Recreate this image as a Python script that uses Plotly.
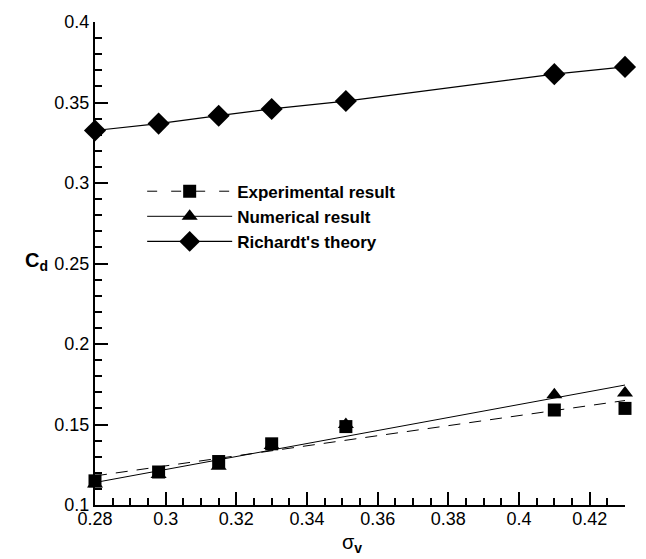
import numpy as np
import plotly.graph_objects as go

sigma_v = [0.28, 0.298, 0.315, 0.33, 0.351, 0.41, 0.43]
cd_experimental = [0.115, 0.1205, 0.127, 0.138, 0.1487, 0.159, 0.160]
cd_numerical = [0.113, 0.119, 0.124, 0.137, 0.150, 0.1685, 0.1695]
cd_richardt = [0.3326, 0.3369, 0.3418, 0.346, 0.3509, 0.3676, 0.3721]

names = ["Experimental result", "Numerical result", "Richardt's theory"]

x_arr = np.array(sigma_v)
x_fit = np.array([min(sigma_v), max(sigma_v)])
exp_fit = np.polyval(np.polyfit(x_arr, cd_experimental, 1), x_fit)
num_fit = np.polyval(np.polyfit(x_arr, cd_numerical, 1), x_fit)

FONT = "Liberation Sans, Arial, sans-serif"

fig = go.Figure()

# fitted lines
fig.add_trace(go.Scatter(x=x_fit, y=exp_fit, mode="lines", showlegend=False,
                         line=dict(color="black", width=1, dash="12px,9px")))
fig.add_trace(go.Scatter(x=x_fit, y=num_fit, mode="lines", showlegend=False,
                         line=dict(color="black", width=1)))
# Richardt theory line+markers
fig.add_trace(go.Scatter(x=sigma_v, y=cd_richardt, mode="lines+markers", showlegend=False,
                         cliponaxis=False,
                         line=dict(color="black", width=1.2),
                         marker=dict(symbol="diamond", size=17, color="black")))
# data markers
fig.add_trace(go.Scatter(x=sigma_v, y=cd_numerical, mode="markers", showlegend=False,
                         cliponaxis=False,
                         marker=dict(symbol="triangle-up", size=14, color="black")))
fig.add_trace(go.Scatter(x=sigma_v, y=cd_experimental, mode="markers", showlegend=False,
                         cliponaxis=False,
                         marker=dict(symbol="square", size=13, color="black")))

# legend entries
fig.add_trace(go.Scatter(x=[None], y=[None], mode="lines+markers", name="<b>" + names[0] + "</b>",
                         line=dict(color="black", width=1, dash="10px,14px"),
                         marker=dict(symbol="square", size=13, color="black")))
fig.add_trace(go.Scatter(x=[None], y=[None], mode="lines+markers", name="<b>" + names[1] + "</b>",
                         line=dict(color="black", width=1),
                         marker=dict(symbol="triangle-up", size=14, color="black")))
fig.add_trace(go.Scatter(x=[None], y=[None], mode="lines+markers", name="<b>" + names[2] + "</b>",
                         line=dict(color="black", width=1.2),
                         marker=dict(symbol="diamond", size=17, color="black")))

axis_common = dict(
    showgrid=False, zeroline=False, showline=True, linecolor="black", linewidth=2,
    ticks="inside", ticklen=13, tickwidth=2, tickcolor="black",
    tickfont=dict(family=FONT, size=18, color="black"),
    mirror=False,
)

fig.update_xaxes(range=[0.28, 0.43], dtick=0.02, tick0=0.28, ticklabelstandoff=-4,
                 minor=dict(dtick=0.005, ticks="inside", ticklen=7, tickwidth=1.5, tickcolor="black"),
                 **axis_common)
fig.update_yaxes(range=[0.1, 0.4], dtick=0.05, tick0=0.1,
                 minor=dict(dtick=0.01, ticks="inside", ticklen=7, tickwidth=1.5, tickcolor="black"),
                 **axis_common)

fig.add_annotation(text="<b>C<sub>d</sub></b>", xref="paper", yref="paper",
                   x=-0.085, y=0.505, showarrow=False, xanchor="right", yanchor="middle",
                   font=dict(family=FONT, size=20, color="black"))
fig.add_annotation(text="σ<sub><b>v</b></sub>", xref="paper", yref="paper",
                   x=0.485, y=-0.08, showarrow=False, xanchor="center", yanchor="middle",
                   font=dict(family=FONT, size=20, color="black"))

fig.update_layout(
    width=646, height=559,
    margin=dict(l=95, r=21, t=20, b=54),
    paper_bgcolor="white", plot_bgcolor="white",
    showlegend=True,
    legend=dict(x=0.089, y=0.686, xanchor="left", yanchor="top",
                bgcolor="rgba(0,0,0,0)", borderwidth=0, tracegroupgap=0,
                font=dict(family=FONT, size=17, color="black"),
                itemwidth=85),
)

fig.write_html("out.html")
